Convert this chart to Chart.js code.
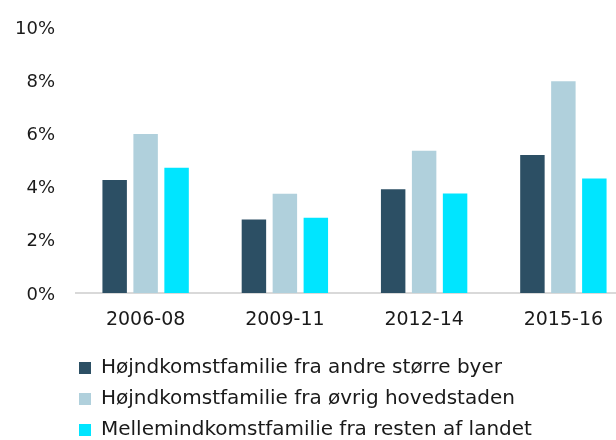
<!DOCTYPE html>
<html>
<head>
<meta charset="utf-8">
<title>Indkomstfamilier</title>
<script src="https://cdn.jsdelivr.net/npm/chart.js@4/dist/chart.umd.min.js"></script>
<style>
    html, body { margin: 0; padding: 0; background: #fff; overflow: hidden; }
    #wrap { width: 616px; height: 440px; overflow: hidden; }
    canvas { display: block; }
</style>
</head>
<body>
<div id="wrap">
    <canvas id="chart" width="640" height="440"></canvas>
</div>
<script>
// Periods and shares (in percent) per family type
const periods = ['2006-08', '2009-11', '2012-14', '2015-16'];
const seriesNames = [
    'Højndkomstfamilie fra andre større byer',
    'Højndkomstfamilie fra øvrig hovedstaden',
    'Mellemindkomstfamilie fra resten af landet'
];
const hojStoreByer = [4.25, 2.76, 3.9, 5.19];
const hojHovedstaden = [5.98, 3.73, 5.35, 7.96];
const mellemResten = [4.71, 2.83, 3.74, 4.3];
const yTicks = [0, 2, 4, 6, 8, 10];

const seriesColors = ['#2C4F64', '#B0D0DC', '#00E5FF'];
const textColor = '#1a1a1a';
const fontFamily = '"DejaVu Sans", sans-serif';

// Fix: the legend sits indented under the plot, not flush with the canvas edge
const legendOffset = {
    id: 'legendOffset',
    afterLayout(chart) {
        const legend = chart.legend;
        legend.left += 68;
        legend.right += 68;
        legend.top += 10;
        legend.bottom += 10;
    }
};

const ctx = document.getElementById('chart').getContext('2d');
new Chart(ctx, {
    type: 'bar',
    data: {
        labels: periods,
        datasets: [hojStoreByer, hojHovedstaden, mellemResten].map((values, i) => ({
            label: seriesNames[i],
            data: values,
            backgroundColor: seriesColors[i],
            borderWidth: 0,
            categoryPercentage: 0.667,
            barPercentage: 0.79
        }))
    },
    options: {
        responsive: false,
        animation: false,
        layout: {
            padding: { top: 27, right: 7, left: 0, bottom: 0 }
        },
        plugins: {
            tooltip: { enabled: false },
            legend: {
                position: 'bottom',
                align: 'start',
                labels: {
                    boxWidth: 12,
                    boxHeight: 12,
                    padding: 11,
                    color: textColor,
                    font: { family: fontFamily, size: 20 }
                }
            }
        },
        scales: {
            x: {
                grid: { display: false, drawTicks: false },
                border: { display: true, color: '#d9d9d9', width: 2 },
                ticks: {
                    padding: 16,
                    color: textColor,
                    font: { family: fontFamily, size: 19 }
                },
                afterFit(scale) { scale.height = 44; }
            },
            y: {
                min: 0,
                max: yTicks[yTicks.length - 1],
                afterBuildTicks(scale) {
                    scale.ticks = yTicks.map(v => ({ value: v }));
                },
                grid: { display: false, drawTicks: false },
                border: { display: false },
                ticks: {
                    padding: 21,
                    labelOffset: 2,
                    color: textColor,
                    font: { family: fontFamily, size: 18 },
                    callback: (value) => value + '%'
                },
                // fixed axis width; the wide tick padding should not push the plot down
                afterFit(scale) {
                    scale.width = 76;
                    scale.paddingTop = 11;
                    scale.paddingBottom = 11;
                }
            }
        }
    },
    plugins: [legendOffset]
});
</script>
</body>
</html>
